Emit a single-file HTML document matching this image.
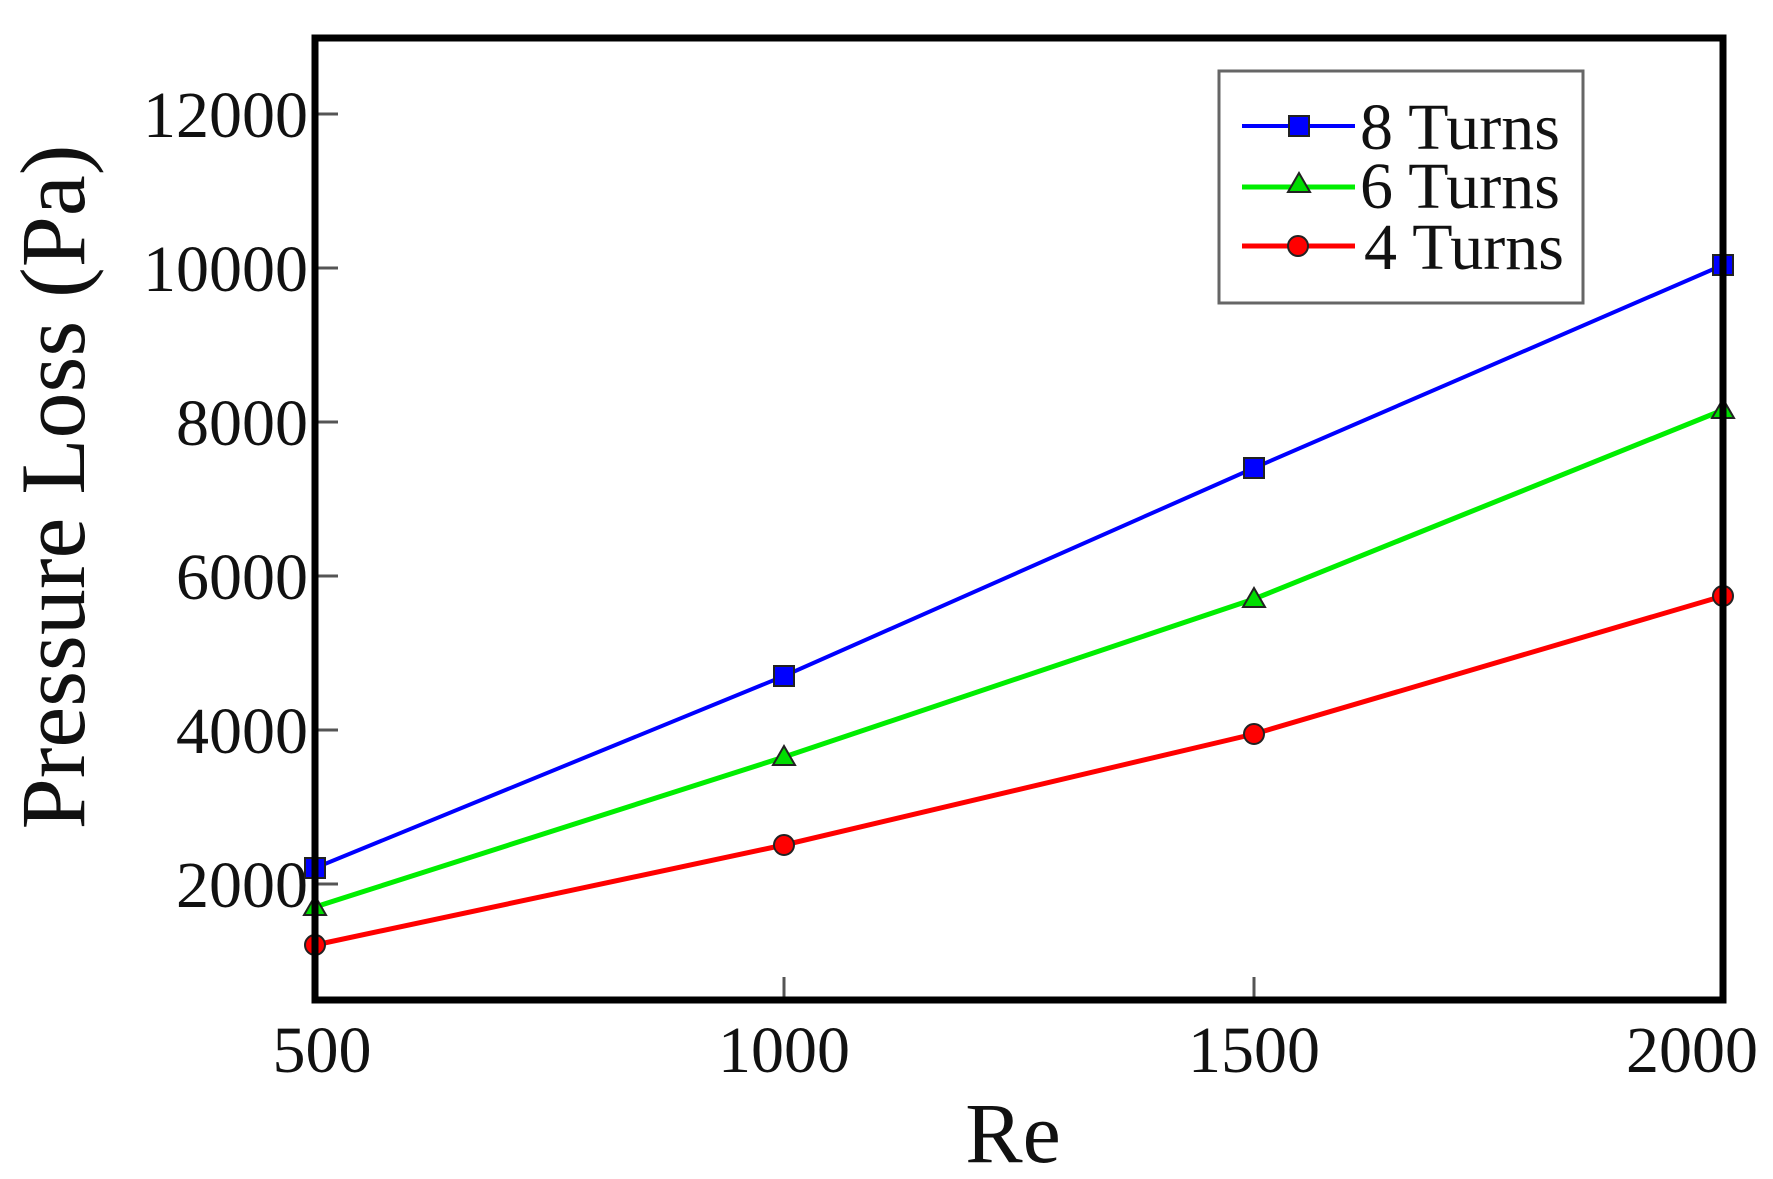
<!DOCTYPE html>
<html><head><meta charset="utf-8"><style>html,body{margin:0;padding:0;background:#fff}svg{display:block}</style></head>
<body>
<svg width="1773" height="1179" viewBox="0 0 1773 1179" xmlns="http://www.w3.org/2000/svg" font-family="Liberation Serif, serif">
<rect width="1773" height="1179" fill="#fff"/>
<g stroke="#555" stroke-width="3">
<line x1="315" y1="114" x2="338" y2="114"/>
<line x1="315" y1="268" x2="338" y2="268"/>
<line x1="315" y1="422" x2="338" y2="422"/>
<line x1="315" y1="576" x2="338" y2="576"/>
<line x1="315" y1="730" x2="338" y2="730"/>
<line x1="315" y1="884" x2="338" y2="884"/>
<line x1="784" y1="1000" x2="784" y2="977"/>
<line x1="1254" y1="1000" x2="1254" y2="977"/>
</g>
<g font-size="66" fill="#111" text-anchor="end">
<text x="308" y="137">12000</text>
<text x="308" y="291">10000</text>
<text x="308" y="445">8000</text>
<text x="308" y="599">6000</text>
<text x="308" y="753">4000</text>
<text x="308" y="907">2000</text>
</g>
<g font-size="66" fill="#111" text-anchor="middle">
<text x="322" y="1072">500</text>
<text x="784" y="1072">1000</text>
<text x="1254" y="1072">1500</text>
<text x="1692" y="1072">2000</text>
</g>
<text x="1013" y="1162" font-size="86" text-anchor="middle" fill="#111">Re</text>
<text transform="translate(84,487) rotate(-90)" font-size="92" text-anchor="middle" fill="#111">Pressure Loss (Pa)</text>
<polyline fill="none" stroke="#0000ff" stroke-width="4" points="315,868 784,676 1254,468 1723,265"/>
<polyline fill="none" stroke="#00ee00" stroke-width="5" points="315,907 784,757 1254,599 1723,410"/>
<polyline fill="none" stroke="#ff0000" stroke-width="5" points="315,945 784,845 1254,734 1723,596"/>
<g fill="#0000ff" stroke="#222" stroke-width="2">
<rect x="305" y="858" width="20" height="20"/><rect x="774" y="666" width="20" height="20"/><rect x="1244" y="458" width="20" height="20"/><rect x="1713" y="255" width="20" height="20"/>
</g>
<g fill="#00dd00" stroke="#222" stroke-width="2">
<polygon points="315,896 326,915 304,915"/><polygon points="784,746 795,765 773,765"/><polygon points="1254,588 1265,607 1243,607"/><polygon points="1723,399 1734,418 1712,418"/>
</g>
<g fill="#ff0000" stroke="#222" stroke-width="2">
<circle cx="315" cy="945" r="10"/><circle cx="784" cy="845" r="10"/><circle cx="1254" cy="734" r="10"/><circle cx="1723" cy="596" r="10"/>
</g>
<rect x="315" y="38" width="1408" height="962" fill="none" stroke="#000" stroke-width="7"/>
<rect x="1219" y="71" width="364" height="232" fill="#fff" stroke="#666" stroke-width="3"/>
<line x1="1242" y1="126" x2="1355" y2="126" stroke="#0000ff" stroke-width="4"/>
<rect x="1289" y="116" width="20" height="20" fill="#0000ff" stroke="#222" stroke-width="2"/>
<line x1="1242" y1="187" x2="1355" y2="187" stroke="#00ee00" stroke-width="5"/>
<polygon points="1299,173 1310,192 1288,192" fill="#00dd00" stroke="#222" stroke-width="2"/>
<line x1="1242" y1="246" x2="1355" y2="246" stroke="#ff0000" stroke-width="5"/>
<circle cx="1298" cy="246" r="10" fill="#ff0000" stroke="#222" stroke-width="2"/>
<g font-size="66" fill="#111" xml:space="preserve">
<text x="1360" y="149">8  Turns</text>
<text x="1360" y="208">6  Turns</text>
<text x="1364" y="269">4  Turns</text>
</g>
</svg>
</body></html>
